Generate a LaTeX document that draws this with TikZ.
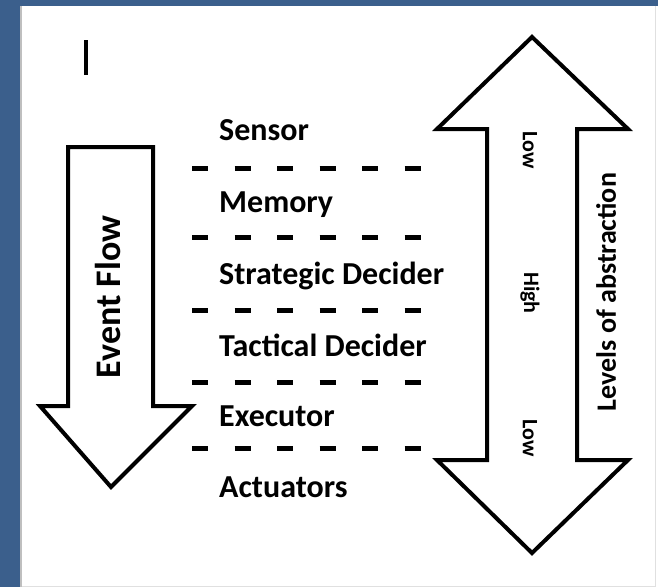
\documentclass[tikz,border=0pt]{standalone}
\usepackage{fontspec}
\setmainfont{Carlito}
\definecolor{frameblue}{RGB}{59,95,140}
\tikzset{
  shapeline/.style={draw=black, line width=4pt, line join=miter, fill=white},
  layerlabel/.style={anchor=base west, inner sep=0pt, font=\fontsize{32}{32}\selectfont\bfseries},
  vlabel/.style={inner sep=0pt},
  sepline/.style={line width=5pt, dash pattern=on 16pt off 26.5pt},
}
\begin{document}
\begin{tikzpicture}[x=1pt,y=-1pt]
\useasboundingbox (0,0) rectangle (658,587);
\fill[frameblue] (0,0) rectangle (658,587);
\fill[white] (20,6) rectangle (658,587);
\draw[black!12, line width=1pt] (655,6) -- (655,586) -- (20,586);
\draw[black!25, line width=1.5pt] (20.75,6) -- (20.75,587);
% cursor bar
\draw[line width=4.5pt] (86,40) -- (86,75);
% event flow arrow
\draw[shapeline] (68,147) -- (153,147) -- (153,406) -- (192,406) -- (111,487) -- (40,406) -- (68,406) -- cycle;
\node[vlabel, rotate=90, font=\fontsize{36}{36}\selectfont\bfseries] (ef) at (108,297) {Event Flow};
% abstraction double arrow
\draw[shapeline] (532,37) -- (628,129) -- (577,129) -- (577,460) -- (628,460) -- (532,553) -- (437,460) -- (487,460) -- (487,129) -- (437,129) -- cycle;
\node[vlabel, rotate=-90, font=\fontsize{22}{22}\selectfont\bfseries] (low1) at (530,150) {Low};
\node[vlabel, rotate=-90, font=\fontsize{22}{22}\selectfont\bfseries] (high) at (530,293) {High};
\node[vlabel, rotate=-90, font=\fontsize{22}{22}\selectfont\bfseries] (low2) at (530,438) {Low};
\node[vlabel, rotate=90, font=\fontsize{28}{28}\selectfont\bfseries] (lev) at (606,292) {Levels of abstraction};
% layers
\node[layerlabel] (sensor) at (219,140) {Sensor};
\node[layerlabel] (memory) at (219,212) {Memory};
\node[layerlabel] (strat) at (219,284) {Strategic Decider};
\node[layerlabel] (tact) at (219,356) {Tactical Decider};
\node[layerlabel] (exec) at (219,426) {Executor};
\node[layerlabel] (act) at (219,497) {Actuators};
% separators
\draw[sepline] (192,168) -- (421,168);
\draw[sepline] (192,237) -- (421,237);
\draw[sepline] (192,310) -- (421,310);
\draw[sepline] (192,382) -- (421,382);
\draw[sepline] (192,448) -- (421,448);
\end{tikzpicture}
\end{document}
